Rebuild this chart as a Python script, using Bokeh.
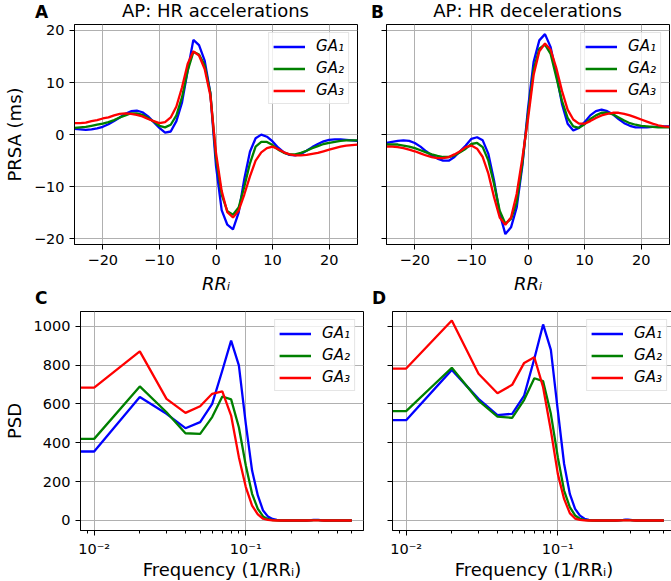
from bokeh.plotting import figure
from bokeh.models import Range1d, Div, FixedTicker, CustomJSTickFormatter
from bokeh.layouts import column, row
from bokeh.embed import file_html
from bokeh.resources import INLINE

# ---------------- data ----------------
rr_index = list(range(-25, 26))

acc_ga1 = [1.1, 1.0, 0.9, 1.0, 1.2, 1.5, 2.0, 2.6, 3.3, 4.0, 4.5, 4.6, 4.3, 3.5, 2.4, 1.3, 0.4, 0.6, 2.6, 6.2,
           12.3, 18.2, 17.2, 14.2, 8.0, -6.0, -14.5, -17.3, -18.2, -15.0, -8.5, -3.3, -0.7, 0.0, -0.4, -1.3,
           -2.5, -3.4, -3.9, -4.0, -3.7, -3.1, -2.4, -1.8, -1.3, -1.0, -0.9, -0.9, -1.0, -1.1, -1.2]
acc_ga2 = [1.3, 1.4, 1.5, 1.7, 1.9, 2.1, 2.4, 2.8, 3.3, 3.7, 4.1, 4.1, 3.8, 3.2, 2.5, 1.7, 1.4, 1.9, 3.7, 7.2,
           12.3, 15.9, 15.4, 13.3, 8.0, -4.5, -11.5, -14.7, -15.4, -14.0, -10.0, -5.5, -2.3, -1.4, -1.4, -2.0,
           -2.9, -3.5, -3.8, -3.8, -3.5, -3.1, -2.6, -2.2, -1.8, -1.6, -1.4, -1.2, -1.1, -1.1, -1.1]
acc_ga3 = [2.2, 2.2, 2.3, 2.6, 2.8, 3.1, 3.3, 3.7, 4.0, 4.1, 4.0, 3.8, 3.5, 3.0, 2.6, 2.2, 2.4, 3.3, 5.4, 9.1,
           13.6, 16.0, 15.2, 12.6, 7.5, -3.5, -10.8, -14.9, -15.9, -14.6, -11.5, -8.0, -5.0, -3.4, -2.6, -2.3,
           -2.8, -3.4, -3.8, -4.0, -4.0, -3.9, -3.7, -3.5, -3.2, -2.9, -2.6, -2.3, -2.1, -2.0, -1.9]

dec_ga1 = [-1.6, -1.4, -1.2, -1.1, -1.2, -1.6, -2.3, -3.2, -4.0, -4.6, -5.0, -5.0, -4.3, -3.2, -2.1, -0.8, -0.5,
           -1.1, -3.7, -8.8, -15.2, -19.1, -17.8, -14.0, -6.0, 5.0, 14.0, 18.1, 19.3, 16.8, 11.7, 5.9, 2.1, 0.8,
           1.3, 2.4, 3.7, 4.5, 4.8, 4.5, 3.9, 3.0, 2.2, 1.7, 1.4, 1.4, 1.4, 1.5, 1.5, 1.6, 1.6]
dec_ga2 = [-1.9, -1.9, -1.9, -2.1, -2.3, -2.6, -3.0, -3.4, -3.8, -4.1, -4.3, -4.3, -4.0, -3.4, -2.7, -1.8, -1.6,
           -2.4, -5.0, -9.5, -14.6, -17.1, -16.2, -13.0, -5.5, 4.0, 12.5, 16.5, 17.3, 15.5, 11.0, 6.5, 3.2, 1.6,
           1.3, 2.0, 3.0, 3.7, 4.2, 4.2, 3.9, 3.3, 2.7, 2.2, 1.9, 1.7, 1.6, 1.5, 1.4, 1.4, 1.4]
dec_ga3 = [-2.3, -2.3, -2.4, -2.6, -2.9, -3.2, -3.6, -4.0, -4.3, -4.5, -4.5, -4.3, -3.8, -3.2, -2.4, -2.1, -2.7,
           -4.3, -7.5, -12.0, -15.9, -17.3, -15.9, -11.4, -4.5, 3.0, 11.5, 16.0, 17.5, 16.3, 12.8, 8.4, 4.8, 2.9,
           2.1, 2.1, 2.6, 3.2, 3.7, 4.0, 4.2, 4.2, 4.0, 3.7, 3.3, 2.9, 2.5, 2.1, 1.8, 1.6, 1.5]

freqs = [k / 100 for k in range(1, 51)]

psd_acc_ga1 = [355, 635, 549, 475, 506, 600, 772, 926, 798, 497, 257, 129, 51, 20, 8, 3, 1, 0, 0, 0,
               0, 0, 0, 0, 0, 1, 2, 3, 3, 3, 2, 1, 0, 0, 0, 0, 0, 0, 0, 0,
               0, 0, 0, 0, 0, 0, 0, 0, 0, 0]
psd_acc_ga2 = [420, 690, 557, 449, 446, 532, 638, 623, 480, 283, 137, 60, 21, 7, 2, 1, 0, 0, 0, 0,
               0, 0, 0, 0, 0, 1, 1, 2, 2, 2, 1, 1, 0, 0, 0, 0, 0, 0, 0, 0,
               0, 0, 0, 0, 0, 0, 0, 0, 0, 0]
psd_acc_ga3 = [684, 870, 626, 554, 588, 652, 664, 540, 326, 172, 77, 31, 9, 3, 1, 0, 0, 0, 0, 0,
               0, 0, 0, 0, 0, 0, 1, 1, 1, 1, 1, 0, 0, 0, 0, 0, 0, 0, 0, 0,
               0, 0, 0, 0, 0, 0, 0, 0, 0, 0]

psd_dec_ga1 = [516, 775, 626, 542, 549, 643, 832, 1009, 878, 566, 292, 137, 60, 25, 9, 3, 1, 0, 0, 0,
               0, 0, 0, 0, 1, 2, 3, 4, 4, 3, 2, 1, 0, 0, 0, 0, 0, 0, 0, 0,
               0, 0, 0, 0, 0, 0, 0, 0, 0, 0]
psd_dec_ga2 = [563, 786, 617, 535, 528, 621, 732, 717, 549, 326, 154, 69, 26, 9, 3, 1, 0, 0, 0, 0,
               0, 0, 0, 0, 1, 1, 2, 2, 2, 2, 1, 1, 0, 0, 0, 0, 0, 0, 0, 0,
               0, 0, 0, 0, 0, 0, 0, 0, 0, 0]
psd_dec_ga3 = [782, 1029, 755, 655, 698, 811, 840, 686, 463, 240, 111, 38, 10, 3, 1, 0, 0, 0, 0, 0,
               0, 0, 0, 0, 0, 1, 1, 1, 1, 1, 1, 0, 0, 0, 0, 0, 0, 0, 0, 0,
               0, 0, 0, 0, 0, 0, 0, 0, 0, 0]

series_labels = ["GA\u2081", "GA\u2082", "GA\u2083"]
series_colors = ["#0000ff", "#008000", "#ff0000"]

panel_titles = ["AP: HR accelerations", "AP: HR decelerations"]
panel_letters = ["A", "B", "C", "D"]

rr_ticks = [-20, -10, 0, 10, 20]
prsa_ticks = [-20, -10, 0, 10, 20]
psd_ticks = [0, 200, 400, 600, 800, 1000]
freq_major = [0.01, 0.1]

# ---------------- styling ----------------
FONT = "DejaVu Sans"
RR_RANGE = (-25, 25)
PRSA_RANGE = (-21.1, 21.15)
F_RANGE = (10 ** -2.09, 10 ** -0.224)
PSD_RANGE = (-51.5, 1075.5)
FW, FH_TOP, FH_BOT = 283, 220, 219
LEFT_A, GAP_L = 74, 20          # left border of left panels, left border of right panels
RIGHT_A, RIGHT_B = 9, 2
TOP_A, BOT_A, TOP_C, BOT_C = 24, 57, 10, 50

minus_fmt = CustomJSTickFormatter(code="return tick < 0 ? '\\u2212' + Math.abs(tick) : String(tick);")
blank_fmt = CustomJSTickFormatter(code="return '';")
log_fmt = CustomJSTickFormatter(code="""
const e = Math.round(Math.log10(tick));
const sup = {'-': '\\u207b', '0': '\\u2070', '1': '\\u00b9', '2': '\\u00b2', '3': '\\u00b3'};
return '10' + String(e).split('').map(c => sup[c]).join('');
""")


def make_fig(x_log, x_rng, y_rng, left, right, top, bottom, fh):
    kw = dict(frame_width=FW, frame_height=fh,
              min_border_left=left, min_border_right=right,
              min_border_top=top, min_border_bottom=bottom,
              output_backend="svg", toolbar_location=None,
              x_range=Range1d(*x_rng), y_range=y_rng)
    if x_log:
        kw["x_axis_type"] = "log"
    p = figure(**kw)
    p.background_fill_color = "white"
    p.border_fill_alpha = 0
    p.outline_line_color = "black"
    p.outline_line_width = 1
    p.outline_line_alpha = 1
    for ax in (p.xaxis[0], p.yaxis[0]):
        ax.major_label_text_font = FONT
        ax.major_label_text_font_size = "14.5px"
        ax.major_label_text_color = "black"
        ax.major_tick_out = 5
        ax.major_tick_in = 0
        ax.major_tick_line_color = "black"
        ax.axis_line_color = "black"
        ax.major_label_standoff = 5
        ax.axis_label_text_font = FONT
        ax.axis_label_text_font_size = "18px"
        ax.axis_label_text_font_style = "normal"
        ax.axis_label_text_color = "black"
    p.grid.grid_line_color = "#b0b0b0"
    p.grid.grid_line_width = 1
    return p


def add_lines(p, xs, ys_list):
    for ys, lab, col in zip(ys_list, series_labels, series_colors):
        p.line(xs, ys, line_color=col, line_width=2.3, legend_label=lab)
    lg = p.legend[0]
    lg.location = "top_right"
    lg.margin = 8
    lg.padding = 4
    lg.spacing = 4
    lg.label_height = 17
    lg.glyph_height = 17
    lg.glyph_width = 32
    lg.label_standoff = 11
    lg.label_text_font = FONT
    lg.label_text_font_size = "15px"
    lg.label_text_font_style = "italic"
    lg.label_text_color = "black"
    lg.border_line_color = "#cccccc"
    lg.border_line_width = 1
    lg.background_fill_alpha = 0.8


prsa_y = Range1d(*PRSA_RANGE)
psd_y = Range1d(*PSD_RANGE)

pA = make_fig(False, RR_RANGE, prsa_y, LEFT_A, RIGHT_A, TOP_A, BOT_A, FH_TOP)
pB = make_fig(False, RR_RANGE, prsa_y, GAP_L, RIGHT_B, TOP_A, BOT_A, FH_TOP)
pC = make_fig(True, F_RANGE, psd_y, LEFT_A, RIGHT_A, TOP_C, BOT_C, FH_BOT)
pD = make_fig(True, F_RANGE, psd_y, GAP_L, RIGHT_B, TOP_C, BOT_C, FH_BOT)

for p in (pA, pB):
    p.xaxis.ticker = FixedTicker(ticks=rr_ticks)
    p.yaxis.ticker = FixedTicker(ticks=prsa_ticks)
    p.xaxis.formatter = minus_fmt
    p.yaxis.formatter = minus_fmt
    p.xaxis.axis_label = "RR\u1d62"
    p.xaxis.axis_label_text_font_style = "italic"
    p.xaxis.axis_label_standoff = 5
for p in (pC, pD):
    minor = [k * 10.0 ** e for e in (-3, -2, -1) for k in range(2, 10)]
    p.xaxis.ticker = FixedTicker(ticks=freq_major, minor_ticks=minor)
    p.xaxis.formatter = log_fmt
    p.xaxis.minor_tick_out = 3
    p.xaxis.minor_tick_in = 0
    p.xaxis.minor_tick_line_color = "black"
    p.yaxis.ticker = FixedTicker(ticks=psd_ticks)
    p.xaxis.axis_label = "Frequency (1/RR\u1d62)"
    p.xaxis.axis_label_standoff = -1
for p in (pB, pD):
    p.yaxis.formatter = blank_fmt
    p.yaxis.major_label_standoff = 0
pA.yaxis.axis_label = "PRSA (ms)"
pC.yaxis.axis_label = "PSD"
pA.yaxis.axis_label_standoff = 6
pC.yaxis.axis_label_standoff = 6

add_lines(pA, rr_index, [acc_ga1, acc_ga2, acc_ga3])
add_lines(pB, rr_index, [dec_ga1, dec_ga2, dec_ga3])
f_draw = [F_RANGE[0]] + freqs
add_lines(pC, f_draw, [[s[0]] + s for s in (psd_acc_ga1, psd_acc_ga2, psd_acc_ga3)])
add_lines(pD, f_draw, [[s[0]] + s for s in (psd_dec_ga1, psd_dec_ga2, psd_dec_ga3)])

# ---------------- titles and panel letters (HTML text layer) ----------------
TOTAL_W, TOTAL_H = 671, 581
frame_left_A = LEFT_A
frame_left_B = LEFT_A + FW + RIGHT_A + GAP_L


def span(text, left, top, size, weight, width=None):
    st = ("position:absolute;left:%dpx;top:%dpx;font-family:'DejaVu Sans';font-size:%spx;"
          "font-weight:%s;line-height:normal;color:black;white-space:nowrap;margin:0;padding:0;"
          % (left, top, size, weight))
    if width:
        st += "width:%dpx;text-align:center;" % width
    return '<div style="%s">%s</div>' % (st, text)


html = "".join([
    span(panel_titles[0], frame_left_A, 0, 18, "normal", FW),
    span(panel_titles[1], frame_left_B, 0, 18, "normal", FW),
    span(panel_letters[0], 35, 2, 17, "bold"),
    span(panel_letters[1], frame_left_B - 15, 2, 17, "bold"),
    span(panel_letters[2], 35, 288, 17, "bold"),
    span(panel_letters[3], frame_left_B - 14, 288, 17, "bold"),
])
overlay = Div(text=html, width=TOTAL_W, height=TOTAL_H, margin=(0, 0, -TOTAL_H, 0),
              styles={"position": "relative"})

layout = column(overlay, row(pA, pB), row(pC, pD))
open("out.html", "w").write(file_html(layout, INLINE))
